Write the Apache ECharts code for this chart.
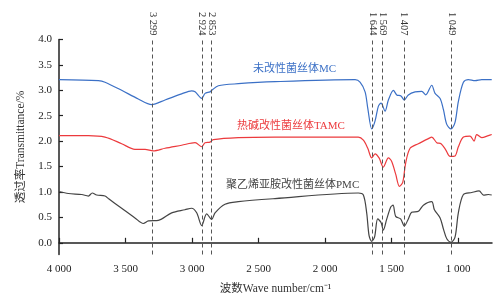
<!DOCTYPE html>
<html>
<head>
<meta charset="utf-8">
<script src="https://cdn.jsdelivr.net/npm/echarts@6/dist/echarts.min.js"></script>
<style>
  html, body { margin: 0; padding: 0; background: #fff; }
  #chart { width: 504px; height: 300px; }
</style>
</head>
<body>
<div id="chart"></div>
<script>
// wavenumber (cm-1) and transmittance
const mcWn = [4000, 3704, 3654, 3529, 3404, 3303, 3203, 3078, 3003, 2977, 2927, 2902, 2865, 2852, 2802, 2652, 2376,
  1774, 1737, 1699, 1679, 1649, 1624, 1599, 1579, 1549, 1524, 1486, 1461, 1429, 1404, 1374, 1323, 1273, 1243,
  1198, 1173, 1135, 1110, 1085, 1053, 1023, 998, 960, 923, 872, 822, 747];
const mcT = [3.21, 3.19, 3.16, 3.00, 2.83, 2.72, 2.81, 2.93, 2.99, 2.97, 2.84, 2.94, 2.97, 3.00, 3.09, 3.13, 3.17,
  3.21, 3.16, 2.97, 2.65, 2.24, 2.40, 2.69, 2.75, 2.59, 2.81, 3.00, 2.91, 2.89, 2.81, 2.91, 2.97, 2.98, 2.91,
  3.10, 2.94, 2.84, 2.62, 2.33, 2.24, 2.37, 2.78, 3.16, 3.21, 3.19, 3.21, 3.21];

const tamcWn = [4000, 3779, 3654, 3529, 3429, 3353, 3291, 3203, 3078, 2977, 2927, 2902, 2865, 2840, 2652, 2376,
  1750, 1712, 1679, 1649, 1624, 1594, 1562, 1524, 1499, 1469, 1441, 1416, 1394, 1361, 1299, 1223, 1198, 1160,
  1128, 1093, 1060, 1023, 998, 960, 910, 880, 860, 822, 772, 747];
const tamcT = [2.11, 2.11, 2.08, 1.95, 1.84, 1.84, 1.81, 1.86, 1.92, 1.97, 1.89, 1.97, 1.98, 2.03, 2.07, 2.08,
  2.08, 2.02, 1.86, 1.67, 1.75, 1.67, 1.49, 1.67, 1.60, 1.35, 1.11, 1.19, 1.57, 1.86, 1.95, 2.05, 2.08, 1.97,
  1.95, 1.83, 1.70, 1.71, 1.89, 2.08, 2.10, 2.00, 2.13, 2.07, 2.11, 2.13];

const pmcWn = [4000, 3930, 3829, 3779, 3750, 3717, 3654, 3629, 3529, 3429, 3366, 3328, 3253, 3153, 3053, 3003, 2965,
  2927, 2890, 2852, 2827, 2752, 2652, 2376, 1750, 1712, 1687, 1669, 1649, 1628, 1604, 1579, 1562, 1537, 1507,
  1489, 1469, 1432, 1404, 1374, 1349, 1298, 1261, 1198, 1178, 1135, 1110, 1085, 1053, 1023, 998, 960, 897, 842,
  809, 772, 747];
const pmcT = [1.01, 0.97, 0.95, 0.92, 0.98, 0.94, 0.92, 0.87, 0.68, 0.49, 0.38, 0.43, 0.44, 0.59, 0.65, 0.68, 0.59,
  0.34, 0.57, 0.46, 0.59, 0.76, 0.81, 0.87, 0.98, 0.94, 0.59, 0.14, 0.03, 0.11, 0.47, 0.40, 0.25, 0.46, 0.70,
  0.74, 0.52, 0.47, 0.33, 0.47, 0.60, 0.62, 0.74, 0.81, 0.65, 0.49, 0.27, 0.08, 0.01, 0.11, 0.59, 0.95, 0.99, 1.02,
  0.94, 0.95, 0.94];

const peaks = [3299, 2924, 2853, 1644, 1569, 1407, 1049];
const xTicks = [4000, 3500, 3000, 2500, 2000, 1500, 1000];
const yTicks = [0, 0.5, 1, 1.5, 2, 2.5, 3, 3.5, 4];

const names = ['未改性菌丝体MC', '热碱改性菌丝体TAMC', '聚乙烯亚胺改性菌丝体PMC'];
const colors = ['#3b70c6', '#ec3a3d', '#444444'];

const serif = '"Liberation Serif", "Noto Sans CJK SC", serif';

function fmtWn(v) {
  if (v >= 1000) return Math.floor(v / 1000) + ' ' + String(v % 1000).padStart(3, '0');
  return String(v);
}
function zip(a, b) {
  return a.map((x, i) => [x, b[i]]);
}

let myChart = echarts.init(document.getElementById('chart'));

let lineSeries = [[mcWn, mcT], [tamcWn, tamcT], [pmcWn, pmcT]].map((d, i) => ({
  name: names[i],
  type: 'line',
  xAxisIndex: 0,
  data: zip(d[0], d[1]),
  showSymbol: false,
  smooth: 0.3,
  lineStyle: { color: colors[i], width: 1.2 },
  itemStyle: { color: colors[i] },
  z: 3
}));

// dashed peak lines
lineSeries[0].markLine = {
  silent: true,
  symbol: 'none',
  label: { show: false },
  lineStyle: { color: '#555', type: [4, 3], width: 1 },
  data: peaks.map(p => ({ xAxis: p }))
};

let option = {
  animation: false,
  grid: { left: 59, right: 12, top: 39.5, bottom: 39 },
  xAxis: [
    {
      type: 'value',
      inverse: true,
      min: 745,
      max: 4000,
      name: '波数Wave number/cm⁻¹',
      nameLocation: 'middle',
      nameGap: 29,
      nameTextStyle: { fontFamily: serif, fontSize: 11.5, color: '#333' },
      axisLine: { lineStyle: { color: '#222', width: 1.5 } },
      axisTick: { inside: true, length: 5, customValues: xTicks, lineStyle: { color: '#222', width: 1.2 } },
      axisLabel: { customValues: xTicks, formatter: fmtWn, fontFamily: serif, fontSize: 11, color: '#222', margin: 9 },
      splitLine: { show: false }
    },
    {
      type: 'value',
      inverse: true,
      min: 745,
      max: 4000,
      position: 'top',
      axisLine: { show: false },
      axisTick: { show: false },
      axisLabel: { customValues: peaks, formatter: fmtWn, rotate: 90, fontFamily: serif, fontSize: 10.5, color: '#333', margin: 4 },
      splitLine: { show: false }
    }
  ],
  yAxis: {
    type: 'value',
    min: -0.23,
    max: 4,
    name: '透过率Transmittance/%',
    nameLocation: 'middle',
    nameGap: 32,
    nameTextStyle: { fontFamily: serif, fontSize: 11.5, color: '#333' },
    axisLine: { show: true, lineStyle: { color: '#222', width: 1.5 } },
    axisTick: { show: true, inside: true, length: 4, customValues: yTicks, lineStyle: { color: '#222', width: 1.2 } },
    axisLabel: { customValues: yTicks, formatter: v => v.toFixed(1), fontFamily: serif, fontSize: 11, color: '#222', margin: 7 },
    splitLine: { show: false }
  },
  graphic: [
    { type: 'text', left: 253, top: 64, style: { text: names[0], fill: colors[0], font: '11px ' + serif } },
    { type: 'text', left: 237, top: 121, style: { text: names[1], fill: colors[1], font: '11px ' + serif } },
    { type: 'text', left: 226, top: 180, style: { text: names[2], fill: colors[2], font: '11px ' + serif } }
  ],
  series: lineSeries
};
myChart.setOption(option);
</script>
</body>
</html>
